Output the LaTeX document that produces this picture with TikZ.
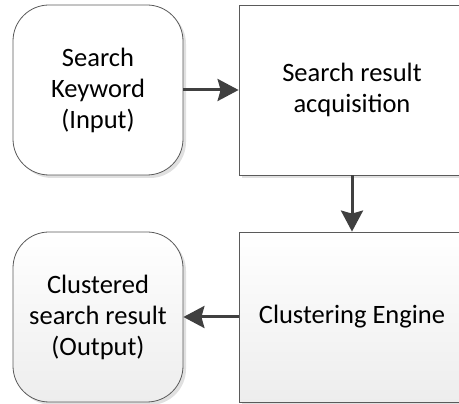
\documentclass[tikz,border=0pt]{standalone}
\usepackage{fontspec}
\setmainfont{Carlito}
\usetikzlibrary{arrows.meta,shadows}
\definecolor{arrowgray}{HTML}{404040}
\definecolor{edgegray}{HTML}{5A5A5A}
\tikzset{
  boxbase/.style={draw=edgegray, line width=0.8pt, align=center, inner sep=0pt,
    font=\fontsize{26.5}{31}\selectfont,
    drop shadow={shadow xshift=3pt, shadow yshift=-3pt, fill=black, opacity=0.12}},
  roundbox/.style={boxbase, rounded corners=36pt, minimum width=170pt, minimum height=170pt},
  rectbox/.style={boxbase, minimum width=226pt, minimum height=170pt},
  plainfill/.style={fill=white},
  gradfill/.style={top color=white, bottom color=black!7},
  flow/.style={draw=arrowgray, line width=3pt, -{Stealth[length=21pt,width=22pt,inset=3pt]}}
}
\begin{document}
\begin{tikzpicture}[x=1pt,y=1pt]
\useasboundingbox (0,0) rectangle (459,404);
\clip (0,0) rectangle (459,404);
\node[roundbox, plainfill] (kw) at (98,314) {Search\\Keyword\\(Input)};
\node[rectbox, plainfill] (acq) at (352,314) {Search result\\acquisition};
\node[rectbox, gradfill] (eng) at (352,87) {Clustering Engine};
\node[roundbox, gradfill] (out) at (98,87) {Clustered\\search result\\(Output)};
\draw[flow] (kw.east) -- (acq.west);
\draw[flow] (acq.south) -- (eng.north);
\draw[flow] (eng.west) -- (out.east);
\end{tikzpicture}
\end{document}
